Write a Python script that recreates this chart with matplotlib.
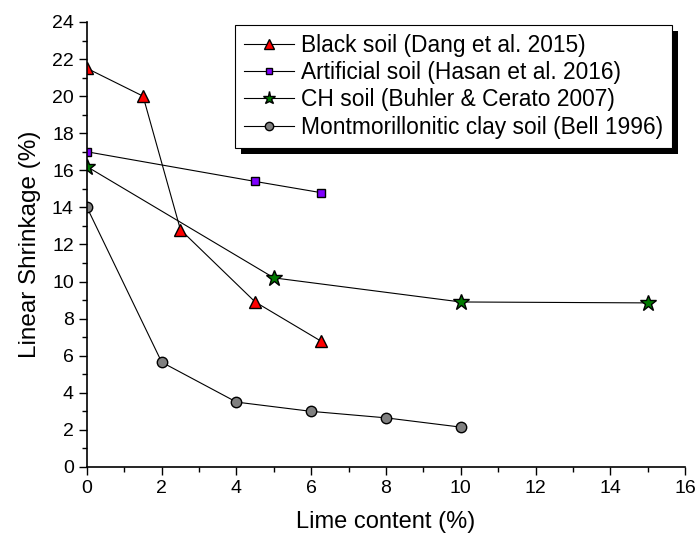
import matplotlib
matplotlib.use("Agg")
import matplotlib.pyplot as plt
import matplotlib.patheffects as pe
from matplotlib.ticker import MultipleLocator

plt.rcParams['font.family'] = ['Liberation Sans', 'DejaVu Sans']

# data
black_x = [0, 1.5, 2.5, 4.5, 6.25]
black_y = [21.5, 20.0, 12.8, 8.9, 6.8]

art_x = [0, 4.5, 6.25]
art_y = [17.0, 15.4, 14.8]

ch_x = [0, 5, 10, 15]
ch_y = [16.2, 10.2, 8.9, 8.85]

mont_x = [0, 2, 4, 6, 8, 10]
mont_y = [14.0, 5.65, 3.5, 3.0, 2.65, 2.15]

fig = plt.figure(figsize=(6.97, 5.39), dpi=100)
ax = fig.add_axes([0.1248, 0.1336, 0.858, 0.8256])

ax.plot(black_x, black_y, color='black', lw=0.8, marker='^', ms=9,
        mfc='red', mec='black', mew=1, label='Black soil (Dang et al. 2015)')
ax.plot(art_x, art_y, color='black', lw=0.8, marker='s', ms=6,
        mfc='#8000ff', mec='black', mew=1, label='Artificial soil (Hasan et al. 2016)')
ax.plot(ch_x, ch_y, color='black', lw=0.8, marker='*', ms=12,
        mfc='#007a00', mec='black', mew=1, label='CH soil (Buhler & Cerato 2007)')
ax.plot(mont_x, mont_y, color='black', lw=0.8, marker='o', ms=7.5,
        mfc='#808080', mec='black', mew=1, label='Montmorillonitic clay soil (Bell 1996)')

ax.set_xlim(0, 16)
ax.set_ylim(0, 24)
ax.xaxis.set_major_locator(MultipleLocator(2))
ax.xaxis.set_minor_locator(MultipleLocator(1))
ax.yaxis.set_major_locator(MultipleLocator(2))
ax.yaxis.set_minor_locator(MultipleLocator(1))
ax.tick_params(which='major', direction='out', length=6, width=1, labelsize=14, pad=3.5)
ax.tick_params(which='minor', direction='out', length=3.5, width=1)
for s in ['top', 'right']:
    ax.spines[s].set_visible(False)
for s in ['left', 'bottom']:
    ax.spines[s].set_linewidth(1.2)

ax.set_xlabel('Lime content (%)', fontsize=17, labelpad=10)
ax.set_ylabel('Linear Shrinkage (%)', fontsize=17.5, labelpad=8)

leg = ax.legend(loc='upper right', bbox_to_anchor=(0.978, 0.993), fontsize=16.4,
                fancybox=False, edgecolor='black', framealpha=1,
                handlelength=2.2, labelspacing=0.18, borderpad=0.4,
                handletextpad=0.3, borderaxespad=0, markerscale=0.8)
leg.get_frame().set_linewidth(0.8)
leg.get_frame().set_path_effects([
    pe.SimplePatchShadow(offset=(4.5, -4.5), shadow_rgbFace='black', alpha=1),
    pe.Normal()])

fig.savefig('out.png', dpi=100)
